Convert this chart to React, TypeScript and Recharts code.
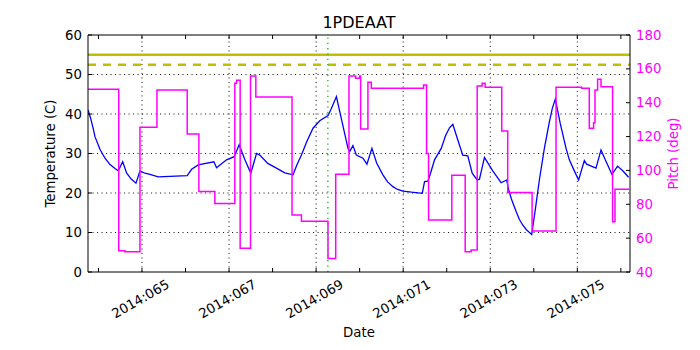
import React from 'react';
import { ComposedChart, Line, XAxis, YAxis, ReferenceLine } from 'recharts';

// ---- data ----
const tempDays = [63.761, 63.819, 63.876, 63.922, 64.037, 64.151, 64.266, 64.381, 64.456, 64.557, 64.649, 64.748, 64.862, 64.954, 65.069, 65.183, 65.374, 66.039, 66.14, 66.291, 66.651, 66.713, 66.943, 67.117, 67.232, 67.362, 67.5, 67.631, 67.706, 67.89, 68.089, 68.28, 68.47, 68.555, 68.663, 68.784, 68.929, 69.083, 69.273, 69.335, 69.466, 69.732, 69.771, 69.846, 69.924, 70.076, 70.167, 70.282, 70.39, 70.534, 70.642, 70.764, 70.872, 70.993, 71.193, 71.438, 71.491, 71.567, 71.628, 71.72, 71.874, 71.972, 72.064, 72.14, 72.255, 72.369, 72.484, 72.585, 72.7, 72.752, 72.867, 73.057, 73.25, 73.378, 73.417, 73.486, 73.594, 73.67, 73.745, 73.83, 73.952, 74.037, 74.128, 74.243, 74.358, 74.427, 74.495, 74.61, 74.741, 74.817, 74.931, 75.03, 75.161, 75.213, 75.429, 75.544, 75.642, 75.796, 75.924, 76.055, 76.177];
const tempValues = [41, 39, 36.5, 34.2, 31, 28.8, 27.2, 26.2, 25.6, 27.9, 25, 23.6, 22.5, 25.6, 25, 24.7, 24.1, 24.4, 26, 27.1, 27.9, 26.4, 28.4, 29.2, 32.2, 28.5, 25, 30, 29.6, 27.5, 26.3, 25.1, 24.6, 27, 29.6, 33, 36.4, 38.3, 39.6, 41, 44.4, 31.3, 30.5, 32, 29.6, 28.8, 27.3, 31.3, 27.6, 24.6, 22.8, 21.6, 20.9, 20.5, 20.2, 19.9, 22.9, 23, 25, 28.4, 31.3, 34.5, 36.5, 37.4, 33.4, 29.6, 29.4, 25, 23.3, 23.5, 29, 25.6, 22.6, 23.3, 21, 18.5, 15.3, 13.3, 11.9, 10.7, 9.5, 16, 23.3, 31.3, 38, 41.5, 43.8, 37.5, 31.3, 28.4, 25.6, 23.3, 28.2, 27.3, 26.3, 30.9, 28.4, 24.7, 26.8, 25.5, 24];

const pitchDays = [63.761, 64.466, 64.61, 64.954, 65.344, 66.039, 66.307, 66.674, 67.133, 67.172, 67.255, 67.493, 67.615, 68.447, 68.663, 69.273, 69.45, 69.755, 69.908, 70.0, 70.023, 70.19, 70.268, 71.468, 71.537, 71.583, 72.117, 72.424, 72.562, 72.7, 72.814, 72.883, 73.264, 73.401, 73.961, 74.511, 75.099, 75.275, 75.374, 75.406, 75.466, 75.544, 75.81, 75.865, 76.193];
const pitchValues = [148, 52.5, 52, 125.5, 147.5, 121.5, 87.5, 80.5, 151.5, 153.2, 54, 155.8, 143.4, 73.7, 70, 48, 97.7, 155.8, 154.4, 155.8, 124.5, 152.1, 148.5, 150.5, 110, 70.7, 97.1, 52, 53, 149.9, 151.5, 149.1, 123.3, 86.9, 64.2, 149.1, 148.5, 124.9, 128.2, 147.5, 153.8, 149.5, 69.7, 88.9, 88.9];

const xDomain: [number, number] = [63.76, 76.21];
const dayTicks = [64, 65, 66, 67, 68, 69, 70, 71, 72, 73, 74, 75, 76];
const labeledDays = [65, 67, 69, 71, 73, 75];
const tempTicks = [0, 10, 20, 30, 40, 50, 60];
const pitchTicks = [40, 60, 80, 100, 120, 140, 160, 180];
const limitSolid = 55;
const limitDashed = 52.5;
const markerDay = 69.27;
const title = '1PDEAAT';

const tempData = tempDays.map((d, i) => ({ day: d, temp: tempValues[i] }));
const pitchData = pitchDays.map((d, i) => ({ day: d, pitch: pitchValues[i] }));

const FONT = '"DejaVu Sans", sans-serif';
const FS = 13.3;
const MAGENTA = '#ff00ff';
const OLIVE = '#bfbf00';

const fmtDay = (d: number) => `2014:${String(d).padStart(3, '0')}`;

const BottomTick = (props: any) => {
  const { x, y, payload } = props;
  const v = payload.value;
  const cx = x - 1.5;
  const cy = y + 27;
  return (
    <g>
      <line x1={x} x2={x} y1={y} y2={y - 4} stroke="#000" strokeWidth={1} />
      {labeledDays.includes(v) && (
        <text x={cx} y={cy} textAnchor="middle" dominantBaseline="central" fontFamily={FONT} fontSize={FS} fill="#000" transform={`rotate(-30 ${cx} ${cy})`}>
          {fmtDay(v)}
        </text>
      )}
    </g>
  );
};

const TopTick = (props: any) => {
  const { x, y } = props;
  return <line x1={x} x2={x} y1={y} y2={y + 4} stroke="#000" strokeWidth={1} />;
};

const LeftTick = (props: any) => {
  const { x, y, payload } = props;
  return (
    <g>
      <line x1={x} x2={x + 4} y1={y} y2={y} stroke="#000" strokeWidth={1} />
      <text x={x - 6} y={y} textAnchor="end" dominantBaseline="central" fontFamily={FONT} fontSize={FS} fill="#000">
        {payload.value}
      </text>
    </g>
  );
};

const RightTick = (props: any) => {
  const { x, y, payload } = props;
  return (
    <g>
      <line x1={x} x2={x - 4} y1={y} y2={y} stroke="#000" strokeWidth={1} />
      <text x={x + 6} y={y} textAnchor="start" dominantBaseline="central" fontFamily={FONT} fontSize={FS} fill={MAGENTA}>
        {payload.value}
      </text>
    </g>
  );
};

const TitleLabel = (props: any) => {
  const vb = props.viewBox || { x: 88, y: 34, width: 542, height: 1 };
  return (
    <text x={vb.x + vb.width / 2} y={vb.y - 6.5} textAnchor="middle" fontFamily={FONT} fontSize={16} fill="#000">
      {title}
    </text>
  );
};

const DateLabel = (props: any) => {
  const vb = props.viewBox || { x: 88, y: 272, width: 542, height: 78 };
  return (
    <text x={vb.x + vb.width / 2} y={vb.y + 64.5} textAnchor="middle" fontFamily={FONT} fontSize={FS} fill="#000">
      Date
    </text>
  );
};

const TempLabel = (props: any) => {
  const vb = props.viewBox || { x: 0, y: 35, width: 88, height: 237 };
  const cx = vb.x + 50;
  const cy = vb.y + vb.height / 2;
  return (
    <text x={cx} y={cy} textAnchor="middle" dominantBaseline="central" fontFamily={FONT} fontSize={FS} fill="#000" transform={`rotate(-90 ${cx} ${cy})`}>
      Temperature (C)
    </text>
  );
};

const PitchLabel = (props: any) => {
  const vb = props.viewBox || { x: 630, y: 35, width: 70, height: 237 };
  const cx = vb.x + 43;
  const cy = vb.y + vb.height / 2;
  return (
    <text x={cx} y={cy} textAnchor="middle" dominantBaseline="central" fontFamily={FONT} fontSize={FS} fill={MAGENTA} transform={`rotate(-90 ${cx} ${cy})`}>
      Pitch (deg)
    </text>
  );
};

export default function App() {
  return (
    <div style={{ position: 'absolute', left: 0, top: 0, width: 700, height: 350, background: '#fff' }}>
      <ComposedChart width={700} height={350} margin={{ top: 34, right: 0, bottom: 0, left: 0 }}>
        <XAxis
          xAxisId="bottom"
          dataKey="day"
          type="number"
          domain={xDomain}
          allowDataOverflow
          ticks={dayTicks}
          interval={0}
          height={78}
          tickSize={0}
          tickMargin={0}
          tickLine={false}
          axisLine={{ stroke: '#000', strokeWidth: 1 }}
          tick={<BottomTick />}
          label={<DateLabel />}
        />
        <XAxis
          xAxisId="top"
          orientation="top"
          dataKey="day"
          type="number"
          domain={xDomain}
          allowDataOverflow
          ticks={dayTicks}
          interval={0}
          height={1}
          tickSize={0}
          tickMargin={0}
          tickLine={false}
          axisLine={{ stroke: '#000', strokeWidth: 1 }}
          tick={<TopTick />}
          label={<TitleLabel />}
        />
        <YAxis
          yAxisId="left"
          type="number"
          domain={[0, 60]}
          allowDataOverflow
          ticks={tempTicks}
          interval={0}
          width={88}
          tickSize={0}
          tickMargin={0}
          tickLine={false}
          axisLine={{ stroke: '#000', strokeWidth: 1 }}
          tick={<LeftTick />}
          label={<TempLabel />}
        />
        <YAxis
          yAxisId="right"
          orientation="right"
          type="number"
          domain={[40, 180]}
          allowDataOverflow
          ticks={pitchTicks}
          interval={0}
          width={70}
          tickSize={0}
          tickMargin={0}
          tickLine={false}
          axisLine={{ stroke: '#000', strokeWidth: 1 }}
          tick={<RightTick />}
          label={<PitchLabel />}
        />
        {tempTicks.slice(1, -1).map((t) => (
          <ReferenceLine key={`h${t}`} xAxisId="bottom" yAxisId="left" y={t} stroke="#222" strokeWidth={1} strokeDasharray="1.1 3.4" />
        ))}
        {labeledDays.map((d) => (
          <ReferenceLine key={`v${d}`} xAxisId="bottom" yAxisId="left" x={d} stroke="#222" strokeWidth={1} strokeDasharray="1.1 3.4" />
        ))}
        <ReferenceLine xAxisId="bottom" yAxisId="left" y={limitSolid} stroke={OLIVE} strokeWidth={2.5} />
        <ReferenceLine xAxisId="bottom" yAxisId="left" y={limitDashed} stroke={OLIVE} strokeWidth={2.5} strokeDasharray="8 7" />
        <Line
          xAxisId="bottom"
          yAxisId="left"
          data={tempData}
          dataKey="temp"
          type="linear"
          stroke="#0000ff"
          strokeWidth={1.3}
          dot={false}
          activeDot={false}
          isAnimationActive={false}
        />
        <Line
          xAxisId="bottom"
          yAxisId="right"
          data={pitchData}
          dataKey="pitch"
          type="stepAfter"
          stroke={MAGENTA}
          strokeWidth={1.5}
          dot={false}
          activeDot={false}
          isAnimationActive={false}
        />
        <ReferenceLine xAxisId="bottom" yAxisId="left" x={markerDay} stroke="#00c000" strokeWidth={1.3} strokeDasharray="1.3 4" />
      </ComposedChart>
    </div>
  );
}
